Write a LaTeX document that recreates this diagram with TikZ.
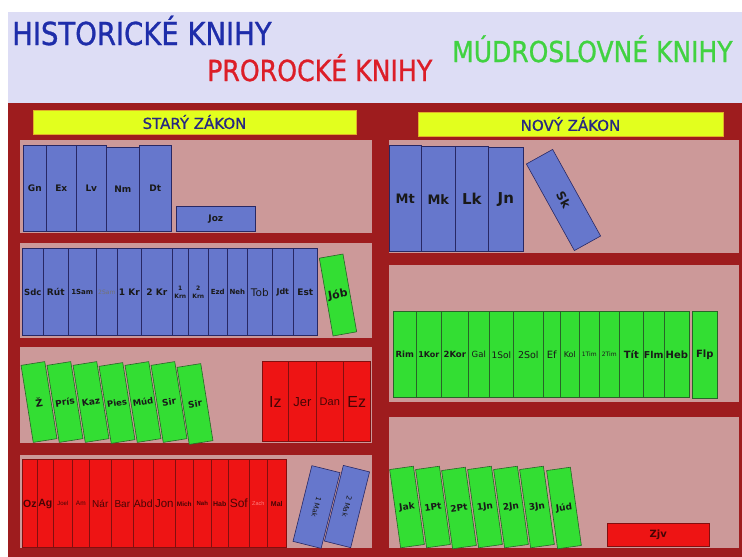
\documentclass[tikz,border=0pt]{standalone}
\usepackage{fontspec}
\setmainfont{DejaVu Sans}
\newfontfamily\arialfont{Liberation Sans}
\newfontfamily\headfont[FakeBold=1]{DejaVu Sans}
\definecolor{skyband}{RGB}{221,221,245}
\definecolor{shelfred}{RGB}{158,28,30}
\definecolor{shelfpink}{RGB}{204,153,153}
\definecolor{bannerbar}{RGB}{226,255,30}
\definecolor{bannerline}{RGB}{225,175,40}
\definecolor{bannertext}{RGB}{40,40,130}
\definecolor{histblue}{RGB}{102,119,204}
\definecolor{histline}{RGB}{40,40,100}
\definecolor{wisegreen}{RGB}{51,222,51}
\definecolor{wiseline}{RGB}{40,100,40}
\definecolor{prophred}{RGB}{238,20,20}
\definecolor{prophline}{RGB}{130,15,15}
\definecolor{prophtext}{RGB}{70,5,5}
\definecolor{titleblue}{RGB}{30,45,170}
\definecolor{titlered}{RGB}{220,30,40}
\definecolor{titlegreen}{RGB}{65,210,65}

\begin{document}
\begin{tikzpicture}[
  x=1pt, y=-1pt,
  lab/.style={font=\bfseries\fontsize{#1}{#1}\selectfont},
  plain/.style={font=\fontsize{#1}{#1}\selectfont},
  alab/.style={font=\arialfont\fontsize{#1}{#1}\selectfont},
  balab/.style={font=\arialfont\bfseries\fontsize{#1}{#1}\selectfont},
  hlab/.style={font=\headfont\fontsize{#1}{#1}\selectfont},
  book/.style={rectangle, draw, line width=0.6pt, inner sep=0pt, anchor=south west,
    align=center, text=black!90, lab=9},
  histbook/.style={book, draw=histline, fill=histblue},
  wisebook/.style={book, draw=wiseline, fill=wisegreen},
  prophbook/.style={book, draw=prophline, fill=prophred, text=prophtext, alab=10},
  tilted/.style={anchor=center},
  banner/.style={rectangle, draw=bannerline, fill=bannerbar, line width=0.6pt,
    inner sep=0pt, text=bannertext, hlab=15},
  heading/.style={anchor=base west, inner sep=0pt}
]
  \useasboundingbox (0,0) rectangle (742,557);
  \fill[white] (0,0) rectangle (742,557);

  % Pozadie, regál a police.
  \fill[skyband] (8,12) rectangle (742,103);
  \fill[shelfred] (8,103) rectangle (742,557);
  \fill[shelfpink] (20,140) rectangle (372,233);
  \fill[shelfpink] (20,243) rectangle (372,338);
  \fill[shelfpink] (20,347) rectangle (372,443);
  \fill[shelfpink] (20,455) rectangle (372,548);
  \fill[shelfpink] (389,140) rectangle (739,253);
  \fill[shelfpink] (389,265) rectangle (739,402);
  \fill[shelfpink] (389,417) rectangle (739,548);

  % Nadpisy skupín kníh.
  \node[heading, text=titleblue, hlab=27.5] (historical) at (12,45) {\scalebox{1}[1.15]{HISTORICKÉ KNIHY}};
  \node[heading, text=titlered, hlab=25.2] (prophetic) at (207,81) {\scalebox{1}[1.15]{PROROCKÉ KNIHY}};
  \node[heading, text=titlegreen, hlab=25] (wisdom) at (452,62) {\scalebox{1}[1.15]{MÚDROSLOVNÉ KNIHY}};
  \node[banner, minimum width=323pt, minimum height=24pt] (oldlaw) at (194.5,122) {STARÝ ZÁKON};
  \node[banner, minimum width=305pt, minimum height=24pt] (newlaw) at (570.5,124) {NOVÝ ZÁKON};

  % Starý zákon, prvá polica.
  \node[histbook, minimum width=23pt, minimum height=86pt] (gn) at (23,232) {Gn};
  \node[histbook, minimum width=30pt, minimum height=86pt] (ex) at (46,232) {Ex};
  \node[histbook, minimum width=30pt, minimum height=86pt] (lv) at (76,232) {Lv};
  \node[histbook, minimum width=33pt, minimum height=84pt] (nm) at (106,232) {Nm};
  \node[histbook, minimum width=32pt, minimum height=86pt] (dt) at (139,232) {Dt};
  \node[histbook, minimum width=79pt, minimum height=25pt] (joz) at (176,232) {Joz};

  % Druhá polica.
  \node[histbook, minimum width=21pt, minimum height=87pt, lab=8.5] (sdc) at (22,336) {Sdc};
  \node[histbook, minimum width=25pt, minimum height=87pt] (rut) at (43,336) {Rút};
  \node[histbook, minimum width=28pt, minimum height=87pt, lab=7] (samone) at (68,336) {1Sam};
  \node[histbook, minimum width=21pt, minimum height=87pt, plain=6, text=black!55] (samtwo) at (96,336) {2Sam};
  \node[histbook, minimum width=24pt, minimum height=87pt] (krone) at (117,336) {1 Kr};
  \node[histbook, minimum width=31pt, minimum height=87pt] (krtwo) at (141,336) {2 Kr};
  \node[histbook, minimum width=16pt, minimum height=87pt, lab=6] (krnone) at (172,336) {1\\[2pt]Krn};
  \node[histbook, minimum width=20pt, minimum height=87pt, lab=6] (krntwo) at (188,336) {2\\[2pt]Krn};
  \node[histbook, minimum width=19pt, minimum height=87pt, lab=7] (ezd) at (208,336) {Ezd};
  \node[histbook, minimum width=20pt, minimum height=87pt, lab=7] (neh) at (227,336) {Neh};
  \node[histbook, minimum width=25pt, minimum height=87pt, plain=10.5] (tob) at (247,336) {Tob};
  \node[histbook, minimum width=21pt, minimum height=87pt, lab=8] (jdt) at (272,336) {Jdt};
  \node[histbook, minimum width=24pt, minimum height=87pt] (est) at (293,336) {Est};
  \node[wisebook, tilted, rotate=10, minimum width=24pt, minimum height=79pt, lab=11] (job) at (338,295) {Jób};

  % Tretia polica.
  \node[wisebook, tilted, rotate=9, minimum width=24pt, minimum height=78pt, lab=10] (z) at (39,402) {Ž};
  \node[wisebook, tilted, rotate=9, minimum width=24pt, minimum height=78pt] (pris) at (65,402) {Prís};
  \node[wisebook, tilted, rotate=9, minimum width=24pt, minimum height=78pt] (kaz) at (91,402) {Kaz};
  \node[wisebook, tilted, rotate=9, minimum width=24pt, minimum height=78pt, lab=8.5] (pies) at (117,403) {Pies};
  \node[wisebook, tilted, rotate=9, minimum width=24pt, minimum height=78pt, lab=8.5] (mud) at (143,402) {Múd};
  \node[wisebook, tilted, rotate=9, minimum width=24pt, minimum height=78pt] (sirone) at (169,402) {Sir};
  \node[wisebook, tilted, rotate=9, minimum width=24pt, minimum height=78pt] (sirtwo) at (195,404) {Sir};
  \node[prophbook, minimum width=26pt, minimum height=80pt, alab=16] (iz) at (262,442) {Iz};
  \node[prophbook, minimum width=28pt, minimum height=80pt, alab=13] (jer) at (288,442) {Jer};
  \node[prophbook, minimum width=27pt, minimum height=80pt, alab=11] (dan) at (316,442) {Dan};
  \node[prophbook, minimum width=27pt, minimum height=80pt, alab=16] (ez) at (343,442) {Ez};

  % Štvrtá polica.
  \node[prophbook, minimum width=15pt, minimum height=88pt, balab=10.5] (oz) at (22,548) {Oz};
  \node[prophbook, minimum width=16pt, minimum height=88pt, balab=10.5] (ag) at (37,548) {Ag};
  \node[prophbook, minimum width=19pt, minimum height=88pt, alab=6] (joel) at (53,548) {Joel};
  \node[prophbook, minimum width=17pt, minimum height=88pt, alab=6.5] (am) at (72,548) {Am};
  \node[prophbook, minimum width=22pt, minimum height=88pt] (nar) at (89,548) {Nár};
  \node[prophbook, minimum width=22pt, minimum height=88pt] (bar) at (111,548) {Bar};
  \node[prophbook, minimum width=20pt, minimum height=88pt, alab=10.5] (abd) at (133,548) {Abd};
  \node[prophbook, minimum width=22pt, minimum height=88pt, alab=11.5] (jon) at (153,548) {Jon};
  \node[prophbook, minimum width=18pt, minimum height=88pt, balab=6.5] (mich) at (175,548) {Mich};
  \node[prophbook, minimum width=18pt, minimum height=88pt, balab=6] (nah) at (193,548) {Nah};
  \node[prophbook, minimum width=17pt, minimum height=88pt, balab=7] (hab) at (211,548) {Hab};
  \node[prophbook, minimum width=21pt, minimum height=88pt, alab=12] (sof) at (228,548) {Sof};
  \node[prophbook, minimum width=18pt, minimum height=88pt, alab=5.5, text=red!50!white] (zach) at (249,548) {Zach};
  \node[prophbook, minimum width=19pt, minimum height=88pt, balab=7] (mal) at (267,548) {Mal};
  \node[histbook, tilted, rotate=-104, minimum width=78pt, minimum height=29pt, plain=7] (makone) at (316.5,507) {1 Mak};
  \node[histbook, tilted, rotate=-104, minimum width=78pt, minimum height=27pt, plain=7] (maktwo) at (347,506.5) {2 Mak};

  % Nový zákon, evanjeliá a Skutky.
  \node[histbook, minimum width=32pt, minimum height=106pt, lab=13] (mt) at (389,252) {Mt};
  \node[histbook, minimum width=34pt, minimum height=105pt, lab=13] (mk) at (421,252) {Mk};
  \node[histbook, minimum width=33pt, minimum height=105pt, lab=15] (lk) at (455,252) {Lk};
  \node[histbook, minimum width=35pt, minimum height=104pt, lab=15] (jn) at (488,252) {Jn};
  \node[histbook, tilted, rotate=-61, minimum width=99pt, minimum height=30pt, lab=12] (sk) at (563.5,200) {Sk};

  % Listy apoštola Pavla.
  \node[wisebook, minimum width=23pt, minimum height=86pt, lab=8.5] (rim) at (393,398) {Rim};
  \node[wisebook, minimum width=25pt, minimum height=86pt, lab=8] (korone) at (416,398) {1Kor};
  \node[wisebook, minimum width=27pt, minimum height=86pt, lab=8.5] (kortwo) at (441,398) {2Kor};
  \node[wisebook, minimum width=21pt, minimum height=86pt, plain=8.5] (gal) at (468,398) {Gal};
  \node[wisebook, minimum width=24pt, minimum height=86pt, plain=9] (solone) at (489,398) {1Sol};
  \node[wisebook, minimum width=30pt, minimum height=86pt, plain=9.5] (soltwo) at (513,398) {2Sol};
  \node[wisebook, minimum width=17pt, minimum height=86pt, plain=10] (ef) at (543,398) {Ef};
  \node[wisebook, minimum width=19pt, minimum height=86pt, plain=8] (kol) at (560,398) {Kol};
  \node[wisebook, minimum width=20pt, minimum height=86pt, plain=6] (timone) at (579,398) {1Tim};
  \node[wisebook, minimum width=20pt, minimum height=86pt, plain=6] (timtwo) at (599,398) {2Tim};
  \node[wisebook, minimum width=24pt, minimum height=86pt, lab=10] (tit) at (619,398) {Tít};
  \node[wisebook, minimum width=21pt, minimum height=86pt, lab=9.5] (flm) at (643,398) {Flm};
  \node[wisebook, minimum width=25pt, minimum height=86pt, lab=10] (heb) at (664,398) {Heb};
  \node[wisebook, minimum width=25pt, minimum height=87pt, lab=10] (flp) at (692,399) {Flp};

  % Katolícke listy a Zjavenie.
  \node[wisebook, tilted, rotate=8, minimum width=24pt, minimum height=79pt] (jak) at (407,507) {Jak};
  \node[wisebook, tilted, rotate=8, minimum width=24pt, minimum height=79pt] (ptone) at (433,507) {1Pt};
  \node[wisebook, tilted, rotate=8, minimum width=24pt, minimum height=79pt] (pttwo) at (459,508) {2Pt};
  \node[wisebook, tilted, rotate=8, minimum width=24pt, minimum height=79pt] (jnone) at (485,507) {1Jn};
  \node[wisebook, tilted, rotate=8, minimum width=24pt, minimum height=79pt] (jntwo) at (511,507) {2Jn};
  \node[wisebook, tilted, rotate=8, minimum width=24pt, minimum height=79pt] (jnthree) at (537,507) {3Jn};
  \node[wisebook, tilted, rotate=8, minimum width=24pt, minimum height=79pt] (jud) at (564,508) {Júd};
  \node[prophbook, minimum width=102pt, minimum height=23pt, lab=10] (zjv) at (607,547) {Zjv};
\end{tikzpicture}
\end{document}
